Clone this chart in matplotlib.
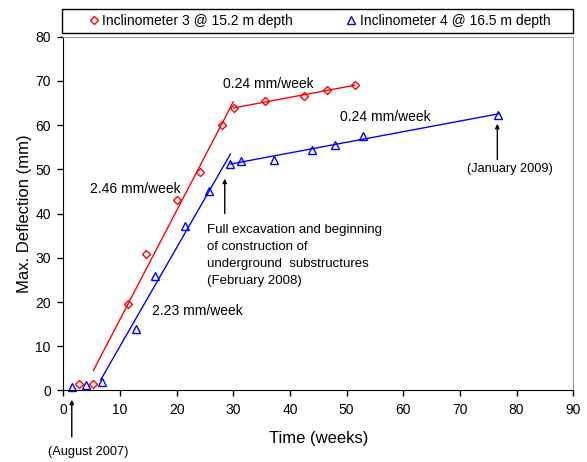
import numpy as np
import matplotlib
matplotlib.use('Agg')
import matplotlib.pyplot as plt
from matplotlib.lines import Line2D
from matplotlib.patches import Rectangle

plt.rcParams['font.family'] = ['Liberation Sans', 'DejaVu Sans']

# Inclinometer 3 @ 15.2 m
inc3_weeks = [2.7, 5.3, 11.4, 14.6, 20.0, 24.2, 27.95, 30.1, 35.6, 42.4, 46.5, 51.4]
inc3_defl = [1.5, 1.5, 19.5, 30.9, 43.0, 49.5, 60.0, 63.9, 65.4, 66.7, 68.0, 69.1]

# Inclinometer 4 @ 16.5 m
inc4_weeks = [1.5, 4.0, 6.8, 12.9, 16.1, 21.4, 25.7, 29.5, 31.4, 37.1, 43.9, 47.9, 52.9, 76.8]
inc4_defl = [0.9, 1.2, 1.9, 13.8, 25.9, 37.3, 45.0, 51.2, 52.0, 52.2, 54.4, 55.6, 57.6, 62.4]

# trend lines: (start week, start mm, end week, rate mm/week)
inc3_trends = [(5.3, 4.5, 30.0, 2.46), (30.1, 63.9, 51.4, 0.24)]
inc4_trends = [(6.6, 2.4, 29.5, 2.23), (29.5, 51.2, 76.8, 0.24)]

fig = plt.figure(figsize=(5.87, 4.62), dpi=100)
ax = fig.add_axes([0.1078, 0.1548, 0.8688, 0.7658])


def draw_trends(trends, color):
    for w0, d0, w1, rate in trends:
        w = np.array([w0, w1])
        ax.plot(w, d0 + rate * (w - w0), color=color, lw=1)


draw_trends(inc3_trends, 'red')
draw_trends(inc4_trends, 'blue')

ax.plot(inc3_weeks, inc3_defl, ls='none', marker='D', ms=4.4, mfc='none',
        mec='red', mew=1, clip_on=False)
ax.plot(inc4_weeks, inc4_defl, ls='none', marker='^', ms=5.5, mfc='none',
        mec='blue', mew=1, clip_on=False)

ax.set_xlim(0, 90)
ax.set_ylim(0, 80)
ax.set_xticks(range(0, 91, 10))
ax.set_yticks(range(0, 81, 10))
ax.tick_params(direction='out', length=4, width=1, labelsize=10, pad=5)
ax.set_xlabel('Time (weeks)', fontsize=12, labelpad=10)
ax.set_ylabel('Max. Deflection (mm)', fontsize=12, labelpad=2)
for side in ['top', 'right']:
    ax.spines[side].set_color('#999999')
for side in ['left', 'bottom']:
    ax.spines[side].set_color('black')

# rate labels
ax.text(36.1, 69.4, '0.24 mm/week', fontsize=10, ha='center', va='center')
ax.text(56.9, 61.9, '0.24 mm/week', fontsize=10, ha='center', va='center')
ax.text(12.7, 45.6, '2.46 mm/week', fontsize=10, ha='center', va='center')
ax.text(23.7, 17.9, '2.23 mm/week', fontsize=10, ha='center', va='center')

arrow = dict(arrowstyle='-|>', color='black', lw=1, mutation_scale=6,
             shrinkA=0, shrinkB=0)
ax.annotate('', xy=(28.5, 47.9), xytext=(28.5, 40.0), arrowprops=arrow)
ax.text(25.4, 37.7, 'Full excavation and beginning\nof construction of\n'
        'underground  substructures\n(February 2008)',
        fontsize=9.5, ha='left', va='top', linespacing=1.55)

ax.annotate('', xy=(76.6, 60.3), xytext=(76.6, 52.2), arrowprops=arrow)
ax.text(78.8, 50.1, '(January 2009)', fontsize=9.2, ha='center', va='center')

ax.annotate('', xy=(1.5, -2.1), xytext=(1.5, -10.5), arrowprops=arrow,
            annotation_clip=False)
ax.text(4.4, -13.9, '(August 2007)', fontsize=9.2, ha='center', va='center',
        clip_on=False)

# legend box above the plot
fig.patches.append(Rectangle((61.7 / 587, 1 - 33.3 / 462), 511.6 / 587, 24.3 / 462,
                             transform=fig.transFigure, fill=False,
                             edgecolor='black', lw=1))
handles = [Line2D([], [], ls='none', marker='D', ms=4.4, mfc='none', mec='red', mew=1),
           Line2D([], [], ls='none', marker='^', ms=5.5, mfc='none', mec='blue', mew=1)]
fig.legend(handles, ['Inclinometer 3 @ 15.2 m depth', 'Inclinometer 4 @ 16.5 m depth'],
           loc='center', bbox_to_anchor=(320 / 587, 1 - 21.2 / 462), ncol=2,
           frameon=False, fontsize=10, handlelength=0.6, handletextpad=0.3,
           columnspacing=3.9, borderpad=0)

fig.savefig('out.png', dpi=100)
